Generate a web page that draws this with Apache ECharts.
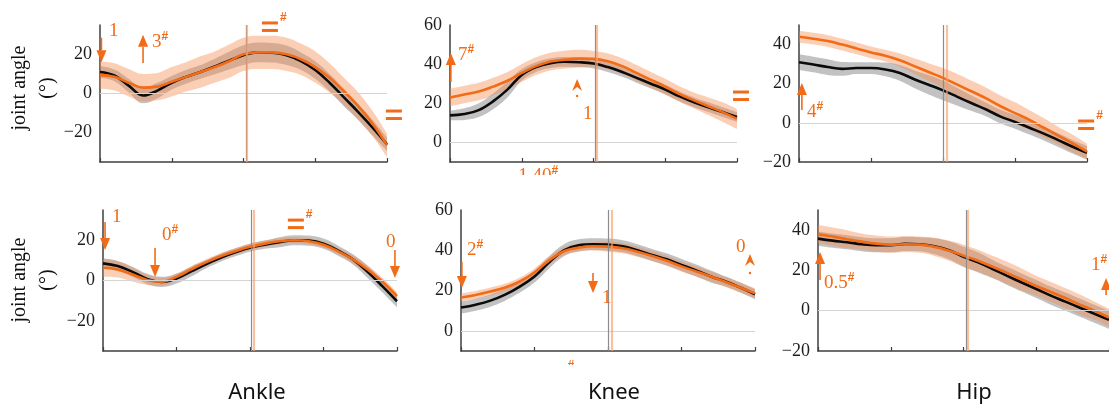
<!DOCTYPE html>
<html>
<head>
<meta charset="utf-8">
<script src="https://cdn.jsdelivr.net/npm/echarts@6/dist/echarts.min.js"></script>
<style>
  html, body { margin: 0; padding: 0; background: #fff; }
  #chart { width: 1109px; height: 407px; }
</style>
</head>
<body>
<div id="chart"></div>
<script>
// Gait cycle (%) at which every curve is sampled
const cyclePct = [0, 5, 10, 15, 20, 25, 30, 35, 40, 45, 50, 55, 60, 65, 70, 75, 80, 85, 90, 95, 100];

// Tick labels of the angle axes (degrees)
const ankleTicks = [-20, 0, 20];
const kneeTicks = [0, 20, 40, 60];
const hipTicks = [-20, 0, 20, 40];

// ---- Top row -------------------------------------------------------------
const ankleTopRef    = [11, 9.2, 4, -1, 1.5, 5.5, 8.5, 11, 13.8, 16.8, 19.6, 21, 20.8, 19.5, 16.5, 12, 5.5, -2, -9.5, -17.5, -26];
const ankleTopRefSd  = [3, 3, 3.5, 4, 4, 3.5, 3.5, 3.5, 4, 4.5, 5, 5, 5, 5, 4.5, 4.5, 4.5, 4.5, 4, 4, 3.5];
const ankleTopCond   = [9.4, 8.5, 5.5, 3, 3.5, 6, 8.5, 11, 13.5, 16.5, 20, 21, 21, 20, 17.5, 13.5, 8, 1, -6.5, -15.5, -26.5];
const ankleTopCondSd = [7, 7, 7, 7, 7, 7.5, 7.5, 8, 8, 8.5, 8.5, 8.5, 8.5, 8.5, 8, 8, 7.5, 7, 7, 6.5, 6];

const kneeTopRef    = [13.8, 14.5, 16.5, 21, 27, 34.5, 38.5, 40.5, 41.2, 41, 40.3, 38.5, 36, 33, 30, 27, 23.5, 20.5, 18, 15.5, 13];
const kneeTopRefSd  = [2.5, 3, 3.5, 4, 4, 3, 2.5, 2.5, 2.5, 2.5, 2.5, 2.5, 2.5, 2.5, 2.5, 2.5, 2.5, 2.5, 2.5, 2.5, 2.5];
const kneeTopCond   = [23, 24.5, 26, 28.5, 31.5, 35.5, 39, 41.3, 42.3, 42.8, 42.7, 41.5, 39, 35.5, 32, 28.5, 24.7, 21.5, 18.5, 15.5, 12];
const kneeTopCondSd = [4.5, 4.5, 4.5, 4.5, 4.5, 4.5, 4.5, 4.5, 4.5, 4.5, 4, 4, 4, 4, 4, 4, 4, 4, 4.5, 5, 5];

const hipTopRef    = [31, 29.8, 28.5, 27.6, 28, 28, 27.3, 25.5, 22.3, 19.5, 16.6, 13.3, 10, 6.8, 3.2, 0.5, -2.5, -5.5, -8.8, -12.2, -15.3];
const hipTopRefSd  = [4, 4, 4, 3.5, 3, 3, 3.5, 4, 4.5, 5, 5, 4.5, 4, 3.5, 3.5, 3.5, 3.5, 3.5, 3.5, 3.5, 3.5];
const hipTopCond   = [44, 43, 41.8, 40, 38, 36, 34.3, 32, 29, 26, 23, 19.5, 16, 12.5, 8.5, 5, 1.5, -2.5, -6.5, -10.5, -14.7];
const hipTopCondSd = [3, 3, 3, 3, 3, 3, 3, 3.5, 4, 4.5, 5, 5.5, 5.5, 5.5, 5.5, 5.5, 5, 5, 4.5, 4.5, 4];

// ---- Bottom row ----------------------------------------------------------
const ankleBotRef    = [8.5, 7.2, 4.3, 0.8, -0.7, 1, 4.5, 8, 11.3, 14, 16.3, 17.8, 19, 20, 19.8, 18.3, 14.8, 10.5, 4.3, -2.8, -10.3];
const ankleBotRefSd  = [2.5, 2.5, 2.5, 2.5, 2.5, 2.5, 2.5, 2, 2, 2, 2, 2, 2.5, 2.5, 2.5, 2.5, 2.5, 2.5, 3, 3, 3];
const ankleBotCond   = [6.3, 5.5, 3, 0.3, -0.6, 1.8, 5.5, 9, 12, 14.5, 16.7, 18.3, 19.5, 20, 19.5, 17.8, 14.5, 10.5, 5.5, -0.5, -7.8];
const ankleBotCondSd = [4.5, 4, 3.5, 2.5, 2, 1.5, 1.5, 1.5, 1.5, 1.5, 1.5, 1.5, 1.5, 1.5, 1.5, 1.5, 1.5, 2, 2, 2, 2];

const kneeBotRef    = [11.6, 13, 15, 18, 22, 27, 34, 40, 42.5, 43, 42.8, 42, 40, 37.7, 35.5, 32.7, 30, 27, 24.5, 21.5, 18.2];
const kneeBotRefSd  = [3, 3, 3, 3, 3, 3, 3, 3, 3, 3, 3, 3, 3, 3, 3, 3, 3, 3, 2.5, 2.5, 2.5];
const kneeBotCond   = [16.6, 17.8, 19.5, 21.5, 24.5, 29, 35, 39.5, 41.3, 42, 41.8, 41, 39.3, 37.2, 34.8, 32, 29.5, 27, 24.3, 21.5, 18.6];
const kneeBotCondSd = [2, 2, 2, 2, 2, 2, 2, 2, 2, 2, 2.5, 2.5, 2.5, 2.5, 2.5, 2.5, 2.5, 2.5, 2.5, 2.5, 2.5];

const hipBotRef    = [35.8, 34.8, 34, 33, 32.5, 32.5, 33.2, 33, 32, 30, 26.8, 24, 20.7, 17.3, 14, 10.8, 7.5, 4.5, 1.5, -1.5, -4.5];
const hipBotRefSd  = [3.5, 3.5, 3.5, 3.5, 3.5, 3.5, 3.5, 3.5, 4, 4.5, 5, 5, 4.5, 4.5, 4.5, 4.5, 4.5, 4.5, 4.5, 4.5, 4.5];
const hipBotCond   = [38, 36.8, 35.5, 34.3, 33.3, 32.8, 33, 32.8, 31.7, 29.8, 27.3, 24.8, 21.8, 18.8, 15.5, 12.3, 9.3, 6.3, 3, 0, -3.4];
const hipBotCondSd = [4.5, 4.5, 4.5, 4, 4, 4, 4, 4, 4.5, 5, 5.5, 5.5, 5.5, 5.5, 5.5, 5, 5, 5, 5, 4.5, 4.5];

// Stance/swing transition (% of cycle) per panel: top ankle, knee, hip, then bottom
const refToeOff  = [50.9, 50.5, 50.0, 50.3, 50.0, 51.0];
const condToeOff = [51.2, 51.2, 51.4, 51.4, 51.4, 51.4];

// ---- Styling -------------------------------------------------------------
const ORANGE = '#f26b16';
const ORANGE_BAND = 'rgba(243,140,80,0.42)';
const GRAY_BAND = 'rgba(95,95,95,0.38)';
const AXIS = '#3f3f3f';
const SERIF = '"Liberation Serif", "DejaVu Serif", serif';

const panels = [
  { grid: { left: 100, top: 25, width: 287, height: 137 }, yMin: -35, yMax: 35, yStep: 5, ticks: ankleTicks,
    ref: ankleTopRef, refSd: ankleTopRefSd, cond: ankleTopCond, condSd: ankleTopCondSd },
  { grid: { left: 450, top: 25, width: 287, height: 137 }, yMin: -10, yMax: 60, yStep: 10, ticks: kneeTicks,
    ref: kneeTopRef, refSd: kneeTopRefSd, cond: kneeTopCond, condSd: kneeTopCondSd },
  { grid: { left: 799, top: 25, width: 288, height: 137 }, yMin: -20, yMax: 50, yStep: 10, ticks: hipTicks,
    ref: hipTopRef, refSd: hipTopRefSd, cond: hipTopCond, condSd: hipTopCondSd },
  { grid: { left: 103, top: 210, width: 294, height: 141 }, yMin: -35, yMax: 35, yStep: 5, ticks: ankleTicks,
    ref: ankleBotRef, refSd: ankleBotRefSd, cond: ankleBotCond, condSd: ankleBotCondSd },
  { grid: { left: 461, top: 210, width: 294, height: 141 }, yMin: -10, yMax: 60, yStep: 10, ticks: kneeTicks,
    ref: kneeBotRef, refSd: kneeBotRefSd, cond: kneeBotCond, condSd: kneeBotCondSd },
  { grid: { left: 818, top: 210, width: 292, height: 141 }, yMin: -20, yMax: 50, yStep: 10, ticks: hipTicks,
    ref: hipBotRef, refSd: hipBotRefSd, cond: hipBotCond, condSd: hipBotCondSd }
];

const fmtDeg = v => (v < 0 ? '\u2212' + Math.abs(v) : String(v));
const pairs = values => cyclePct.map((x, k) => [x, values[k]]);

// Each panel has two x axes: a visible value axis (0–100 %, ticks, lines, markers)
// and a hidden category axis over cyclePct that carries the stacked SD bands.
const valAxis = i => 2 * i;
const catAxis = i => 2 * i + 1;

// Mean ± SD band as two stacked series (lower edge + band width)
function band(i, mean, sd, fill, z, extra) {
  const stackId = 'band' + i + '_' + z;
  const lower = mean.map((m, k) => m - sd[k]);
  const width = sd.map(s => 2 * s);
  const common = { type: 'line', xAxisIndex: catAxis(i), yAxisIndex: i, stack: stackId, stackStrategy: 'all',
                   smooth: 0.4, symbol: 'none', silent: true, lineStyle: { width: 0, opacity: 0 }, z: z };
  return [
    Object.assign({}, common, { data: lower }, extra || {}),
    Object.assign({}, common, { data: width, areaStyle: { color: fill, opacity: 1 } })
  ];
}

const grids = [], xAxes = [], yAxes = [], series = [];
panels.forEach((p, i) => {
  grids.push(Object.assign({ containLabel: false }, p.grid));
  xAxes.push({
    gridIndex: i, type: 'value', position: 'bottom', min: 0, max: 100, interval: 25,
    axisLine: { show: true, onZero: false, lineStyle: { color: AXIS, width: 1.5 } },
    axisTick: { show: true, inside: true, length: 4, lineStyle: { color: AXIS, width: 1.2 } },
    axisLabel: { show: false }, splitLine: { show: false }
  });
  xAxes.push({
    gridIndex: i, type: 'category', position: 'bottom', data: cyclePct.map(String), boundaryGap: false, show: false
  });
  yAxes.push({
    gridIndex: i, type: 'value', min: p.yMin, max: p.yMax, interval: p.yStep,
    axisLine: { show: true, onZero: false, lineStyle: { color: AXIS, width: 1.5 } },
    axisTick: { show: false },
    axisLabel: {
      margin: 8, color: '#1e1e1e', fontFamily: SERIF, fontSize: 18,
      formatter: v => (p.ticks.indexOf(v) >= 0 ? fmtDeg(v) : '')
    },
    splitLine: { show: false }
  });

  const zeroLine = {
    markLine: { silent: true, symbol: ['none', 'none'], label: { show: false }, animation: false,
      data: [{ yAxis: 0, lineStyle: { color: '#d4d4d4', width: 1.2, type: 'solid' } }] }
  };
  series.push(...band(i, p.ref, p.refSd, GRAY_BAND, 1, zeroLine));
  series.push(...band(i, p.cond, p.condSd, ORANGE_BAND, 2));
  series.push({
    type: 'line', xAxisIndex: valAxis(i), yAxisIndex: i, data: pairs(p.ref), smooth: 0.4, symbol: 'none', z: 3,
    lineStyle: { color: '#0b0b0b', width: 2.6 },
    markLine: { silent: true, symbol: ['none', 'none'], label: { show: false }, animation: false,
      data: [{ xAxis: refToeOff[i], lineStyle: { color: '#8c8c8c', width: 1.2, type: 'solid' } }] }
  });
  series.push({
    type: 'line', xAxisIndex: valAxis(i), yAxisIndex: i, data: pairs(p.cond), smooth: 0.4, symbol: 'none', z: 4,
    lineStyle: { color: ORANGE, width: 2.6 },
    markLine: { silent: true, symbol: ['none', 'none'], label: { show: false }, animation: false,
      data: [{ xAxis: condToeOff[i], lineStyle: { color: 'rgba(245,160,110,0.65)', width: 2.2, type: 'solid' } }] }
  });
});

const chart = echarts.init(document.getElementById('chart'), null, { renderer: 'canvas' });
chart.setOption({ animation: false, grid: grids, xAxis: xAxes, yAxis: yAxes, series: series });

// ---- Significance annotations (positions in each panel's data units) -----
const notes = [
  // top ankle
  { k: 'arrow', g: 0, x: 0.5, y0: 28.5, y1: 16 },
  { k: 'text', g: 0, x: 3.1, y: 31.9, t: '1' },
  { k: 'arrow', g: 0, x: 15, y0: 15.6, y1: 30 },
  { k: 'text', g: 0, x: 18.1, y: 26.3, t: '3', sup: '#' },
  { k: 'eq', g: 0, x: 59.2, y: 34, sup: '#' },
  { k: 'eq', g: 0, x: 102.4, y: -11 },
  // top knee
  { k: 'arrow', g: 1, x: 0.3, y0: 30.9, y1: 45.7 },
  { k: 'text', g: 1, x: 2.8, y: 44.7, t: '7', sup: '#' },
  { k: 'chev', g: 1, x: 44.3, y: 32.4, dot: 23.7 },
  { k: 'text', g: 1, x: 46.3, y: 14.5, t: '1' },
  { k: 'eq', g: 1, x: 101.4, y: 23.7 },
  { k: 'cut', g: 1, x: 30.7, y: -17.2, t: '1.40', sup: '#' },
  // top hip
  { k: 'arrow', g: 2, x: 1, y0: 6.6, y1: 20.4 },
  { k: 'text', g: 2, x: 2.8, y: 5.5, t: '4', sup: '#' },
  { k: 'eq', g: 2, x: 99.7, y: -1.1, sup: '#' },
  // bottom ankle
  { k: 'arrow', g: 3, x: 0.7, y0: 29, y1: 15.1 },
  { k: 'text', g: 3, x: 3.1, y: 31.5, t: '1' },
  { k: 'arrow', g: 3, x: 17.7, y0: 16.1, y1: 1.7 },
  { k: 'text', g: 3, x: 20.1, y: 22.6, t: '0', sup: '#' },
  { k: 'eq', g: 3, x: 65.6, y: 28, sup: '#' },
  { k: 'text', g: 3, x: 96.3, y: 19.1, t: '0' },
  { k: 'arrow', g: 3, x: 99.3, y0: 15.1, y1: 1.2 },
  // bottom knee
  { k: 'text', g: 4, x: 2, y: 40.1, t: '2', sup: '#' },
  { k: 'arrow', g: 4, x: 0.3, y0: 34.2, y1: 21.3 },
  { k: 'arrow', g: 4, x: 44.9, y0: 28.7, y1: 18.8 },
  { k: 'text', g: 4, x: 48, y: 16.3, t: '1' },
  { k: 'text', g: 4, x: 93.5, y: 41.6, t: '0' },
  { k: 'chev', g: 4, x: 98.3, y: 38.2, dot: 28.7 },
  { k: 'cut', g: 4, x: 37.4, y: -17.5, t: '', sup: '#' },
  // bottom hip
  { k: 'arrow', g: 5, x: 0.7, y0: 15.2, y1: 29.1 },
  { k: 'text', g: 5, x: 2.1, y: 13.8, t: '0.5', sup: '#' },
  { k: 'text', g: 5, x: 93.8, y: 22.7, t: '1', sup: '#' },
  { k: 'arrow', g: 5, x: 99, y0: 7.8, y1: 16.2 }
];

const toPx = (g, x, y) => chart.convertToPixel({ xAxisIndex: valAxis(g), yAxisIndex: g }, [x, y]);

const richStyles = {
  m: { fontSize: 19, fontFamily: SERIF, fill: ORANGE, lineHeight: 22 },
  s: { fontSize: 12, fontFamily: '"Liberation Sans", sans-serif', fontWeight: 'bold', fill: ORANGE, lineHeight: 12, verticalAlign: 'top' }
};
const richText = (t, sup) => (t ? '{m|' + t + '}' : '') + (sup ? '{s|' + sup + '}' : '');

const elements = [];
const HEAD_L = 12, HEAD_W = 10;
notes.forEach(n => {
  if (n.k === 'arrow') {
    const a = toPx(n.g, n.x, n.y0), b = toPx(n.g, n.x, n.y1);
    const dir = b[1] > a[1] ? 1 : -1;
    const base = b[1] - dir * HEAD_L;
    elements.push({ type: 'line', silent: true, z: 50,
      shape: { x1: a[0], y1: a[1], x2: b[0], y2: base }, style: { stroke: ORANGE, lineWidth: 1.6 } });
    elements.push({ type: 'polygon', silent: true, z: 50,
      shape: { points: [[b[0], b[1]], [b[0] - HEAD_W / 2, base], [b[0] + HEAD_W / 2, base]] }, style: { fill: ORANGE } });
  } else if (n.k === 'text') {
    const p = toPx(n.g, n.x, n.y);
    elements.push({ type: 'text', silent: true, z: 50, x: p[0], y: p[1],
      style: { text: richText(n.t, n.sup), rich: richStyles, align: 'left', textAlign: 'left',
               verticalAlign: 'middle', textVerticalAlign: 'middle' } });
  } else if (n.k === 'eq') {
    const p = toPx(n.g, n.x, n.y);
    elements.push({ type: 'rect', silent: true, z: 50, shape: { x: p[0] - 8, y: p[1] - 5.5, width: 16, height: 3 }, style: { fill: ORANGE } });
    elements.push({ type: 'rect', silent: true, z: 50, shape: { x: p[0] - 8, y: p[1] + 2, width: 16, height: 3 }, style: { fill: ORANGE } });
    if (n.sup) {
      elements.push({ type: 'text', silent: true, z: 50, x: p[0] + 10, y: p[1] - 9,
        style: { text: n.sup, font: 'bold 12px "Liberation Sans", sans-serif', fill: ORANGE,
                 align: 'left', textAlign: 'left', verticalAlign: 'middle', textVerticalAlign: 'middle' } });
    }
  } else if (n.k === 'chev') {
    const p = toPx(n.g, n.x, n.y), d = toPx(n.g, n.x, n.dot);
    elements.push({ type: 'polygon', silent: true, z: 50,
      shape: { points: [[p[0], p[1]], [p[0] + 5, p[1] + 12], [p[0], p[1] + 8], [p[0] - 5, p[1] + 12]] }, style: { fill: ORANGE } });
    elements.push({ type: 'circle', silent: true, z: 50, shape: { cx: d[0], cy: d[1], r: 1.2 }, style: { fill: ORANGE } });
  } else if (n.k === 'cut') {
    // label that runs off the lower edge of its panel: only its top shows
    const p = toPx(n.g, n.x, n.y);
    elements.push({ type: 'text', silent: true, z: 50, x: p[0], y: p[1],
      style: { text: richText(n.t, n.sup), rich: richStyles, align: 'center', textAlign: 'center',
               verticalAlign: 'middle', textVerticalAlign: 'middle' } });
    elements.push({ type: 'rect', silent: true, z: 51,
      shape: { x: p[0] - 30, y: p[1] - 1, width: 60, height: 20 }, style: { fill: '#ffffff' } });
  }
});

// Axis titles and joint names
const yTitleRows = [88, 280];
yTitleRows.forEach(cy => {
  elements.push({ type: 'text', silent: true, z: 60, x: 20, y: cy, rotation: Math.PI / 2,
    style: { text: 'joint angle', font: '20px ' + SERIF, fill: '#111', align: 'center', textAlign: 'center',
             verticalAlign: 'middle', textVerticalAlign: 'middle' } });
  elements.push({ type: 'text', silent: true, z: 60, x: 48, y: cy, rotation: Math.PI / 2,
    style: { text: '(\u00b0)', font: '20px ' + SERIF, fill: '#111', align: 'center', textAlign: 'center',
             verticalAlign: 'middle', textVerticalAlign: 'middle' } });
});
const jointNames = ['Ankle', 'Knee', 'Hip'];
const jointCenters = [257, 614, 974];
jointNames.forEach((name, k) => {
  elements.push({ type: 'text', silent: true, z: 60, x: jointCenters[k], y: 393,
    style: { text: name, font: '22px "Noto Sans", sans-serif', fill: '#111', align: 'center', textAlign: 'center',
             verticalAlign: 'middle', textVerticalAlign: 'middle' } });
});

chart.setOption({ graphic: { elements: elements } });
</script>
</body>
</html>
